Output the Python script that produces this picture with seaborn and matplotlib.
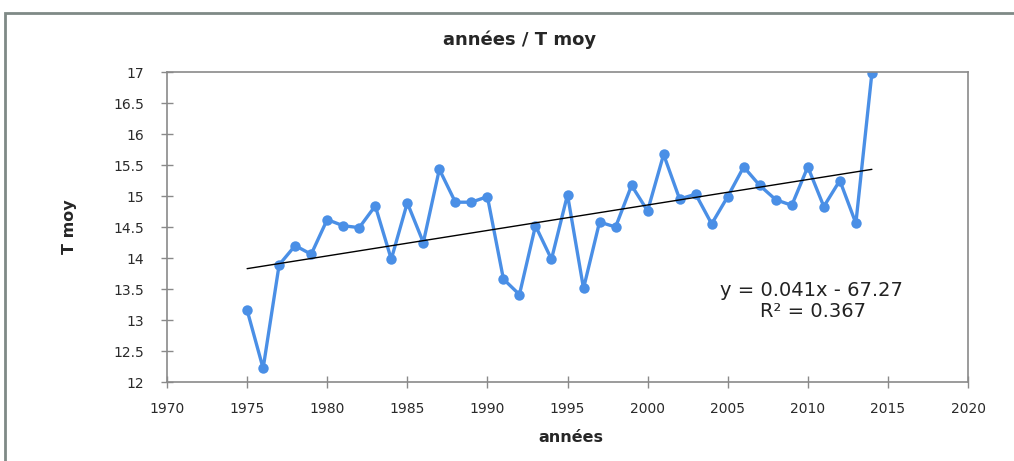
import numpy as np
import pandas as pd
import matplotlib
matplotlib.use("Agg")
import matplotlib.pyplot as plt
from matplotlib.patches import Rectangle
import seaborn as sns

# Mean annual temperature series
years = list(range(1975, 2015))
t_moy = [13.16, 12.22, 13.89, 14.20, 14.06, 14.62, 14.52, 14.49, 14.84, 13.98,
         14.89, 14.25, 15.43, 14.90, 14.90, 14.99, 13.66, 13.41, 14.52, 13.98,
         15.02, 13.51, 14.58, 14.50, 15.17, 14.76, 15.67, 14.95, 15.03, 14.55,
         14.99, 15.47, 15.17, 14.94, 14.85, 15.47, 14.83, 15.25, 14.56, 16.98]

x_ticks = list(range(1970, 2021, 5))
y_ticks = [12, 12.5, 13, 13.5, 14, 14.5, 15, 15.5, 16, 16.5, 17]
y_tick_labels = ["12", "12.5", "13", "13.5", "14", "14.5", "15", "15.5", "16", "16.5", "17"]

title = "années / T moy"
x_label = "années"
y_label = "T moy"
eq_text = "y = 0.041x - 67.27"
r2_text = "R² = 0.367"

df = pd.DataFrame({"annee": years, "tmoy": t_moy})

sns.set_style("white")
plt.rcParams["font.family"] = ["DejaVu Sans"]

fig = plt.figure(figsize=(10.14, 4.61), dpi=100)
fig.patch.set_facecolor("white")

# Chart frame
fig.add_artist(Rectangle((5 / 1014, -0.05), 1.2, 1 - 13 / 461 + 0.05,
                         transform=fig.transFigure, fill=False,
                         edgecolor="#7f8a86", linewidth=2.0))

ax = fig.add_axes([167 / 1014, 1 - 382 / 461, (968 - 167) / 1014, (382 - 72) / 461])

line_color = "#4a8fe6"
sns.lineplot(data=df, x="annee", y="tmoy", ax=ax, color=line_color,
             linewidth=2.4, marker="o", markersize=7.5, markeredgewidth=0)

# Linear trend over the data range
sns.regplot(data=df, x="annee", y="tmoy", ax=ax, scatter=False, ci=None,
            truncate=True, color="black", line_kws={"linewidth": 1.0})

ax.set_xlim(1970, 2020)
ax.set_ylim(12, 17)
ax.set_xticks(x_ticks)
ax.set_xticklabels([str(v) for v in x_ticks])
ax.set_yticks(y_ticks)
ax.set_yticklabels(y_tick_labels)
ax.tick_params(axis="both", direction="inout", length=9, width=1.0,
               color="#8a8a8a", labelsize=10, labelcolor="#2a2a2a",
               bottom=True, left=True)
ax.tick_params(axis="x", pad=10)
ax.tick_params(axis="y", pad=12)
for s in ax.spines.values():
    s.set_color("#8a8a8a")
    s.set_linewidth(1.2)
ax.grid(False)

ax.set_xlabel(x_label, fontsize=11.5, fontweight="bold")
ax.xaxis.set_label_coords(0.504, -0.178)
ax.set_ylabel(y_label, fontsize=11.5, fontweight="bold")
ax.yaxis.set_label_coords(-0.122, 0.5)
ax.xaxis.label.set_va("center")
ax.yaxis.label.set_va("center")
fig.text(520 / 1014, 1 - 40 / 461, title, fontsize=13, fontweight="bold",
         ha="center", va="center")

ax.text(0.805, 0.296, eq_text, transform=ax.transAxes, fontsize=14,
        ha="center", va="center", color="#222222")
ax.text(0.806, 0.226, r2_text, transform=ax.transAxes, fontsize=14,
        ha="center", va="center", color="#222222")

fig.savefig("out.png", dpi=100)
